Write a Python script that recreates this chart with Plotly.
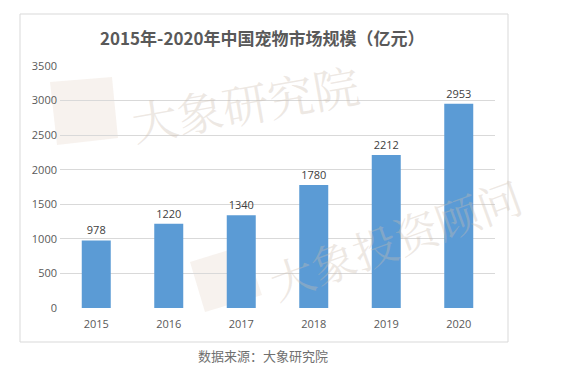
import plotly.graph_objects as go

years = ["2015", "2016", "2017", "2018", "2019", "2020"]
market_size = [978, 1220, 1340, 1780, 2212, 2953]
y_ticks = [0, 500, 1000, 1500, 2000, 2500, 3000, 3500]

# the page body adds an 8px margin; work in window pixels and subtract it
OFF = 8
L, R, T, B = 60 - OFF, 495 - OFF, 66 - OFF, 308 - OFF
W, H = 564 - OFF, 368 - OFF


def px(x):
    return (x - OFF - L) / (R - L)


def py(y):
    return (B - (y - OFF)) / (B - T)


fig = go.Figure()
fig.add_trace(go.Bar(
    x=years, y=market_size,
    marker=dict(color="#5b9bd5", line=dict(width=0)),
    text=[str(v) for v in market_size],
    textposition="outside",
    textfont=dict(family="Open Sans, sans-serif", size=11, color="#404040"),
    cliponaxis=False,
))


def poly(pts):
    return "M " + " L ".join(f"{px(a):.4f},{py(b):.4f}" for a, b in pts) + " Z"


shapes = [
    # outer frame
    dict(type="rect", xref="paper", yref="paper", x0=px(20), x1=px(508), y0=py(342), y1=py(14),
         line=dict(color="#d9d9d9", width=1), fillcolor="rgba(0,0,0,0)", layer="below"),
    # watermark logos
    dict(type="path", xref="paper", yref="paper", path=poly([(50, 82), (112, 77), (118, 138), (57, 145)]),
         fillcolor="rgba(225,210,195,0.28)", line=dict(width=0), layer="below"),
    dict(type="path", xref="paper", yref="paper", path=poly([(190, 262), (245, 245), (262, 295), (205, 312)]),
         fillcolor="rgba(225,210,195,0.28)", line=dict(width=0), layer="below"),
]

annotations = [
    dict(text="<b>2015年-2020年中国宠物市场规模（亿元）</b>", xref="paper", yref="paper",
         x=px(262), y=py(38), xanchor="center", yanchor="middle", showarrow=False,
         font=dict(family="Noto Sans CJK SC, sans-serif", size=17, color="#595959")),
    dict(text="数据来源：大象研究院", xref="paper", yref="paper",
         x=px(263), y=py(355), xanchor="center", yanchor="middle", showarrow=False,
         font=dict(family="Noto Sans CJK SC, sans-serif", size=13, color="#707070")),
    dict(text="大象研究院", xref="paper", yref="paper",
         x=px(245), y=py(102), xanchor="center", yanchor="middle", showarrow=False, textangle=-10,
         font=dict(family="Noto Serif CJK SC, serif", size=46, color="rgba(205,190,175,0.35)")),
    dict(text="大象投资顾问", xref="paper", yref="paper",
         x=px(395), y=py(238), xanchor="center", yanchor="middle", showarrow=False, textangle=-20,
         font=dict(family="Noto Serif CJK SC, serif", size=44, color="rgba(205,190,175,0.35)")),
]

fig.update_layout(
    width=W, height=H,
    margin=dict(l=L, r=W - R, t=T, b=H - B),
    paper_bgcolor="white", plot_bgcolor="rgba(0,0,0,0)",
    bargap=0.6,
    showlegend=False,
    shapes=shapes,
    annotations=annotations,
    font=dict(family="Open Sans, sans-serif", color="#595959"),
)
fig.update_yaxes(range=[0, 3500], tickvals=y_ticks, showgrid=True, gridcolor="#d9d9d9", gridwidth=1,
                 zeroline=False, showline=False, ticks="", ticklabelstandoff=2,
                 tickfont=dict(size=11, color="#595959"), layer="below traces")
fig.update_xaxes(showgrid=False, showline=False, ticks="", ticklabelstandoff=8,
                 tickfont=dict(size=11, color="#595959"))

fig.write_html("out.html")
